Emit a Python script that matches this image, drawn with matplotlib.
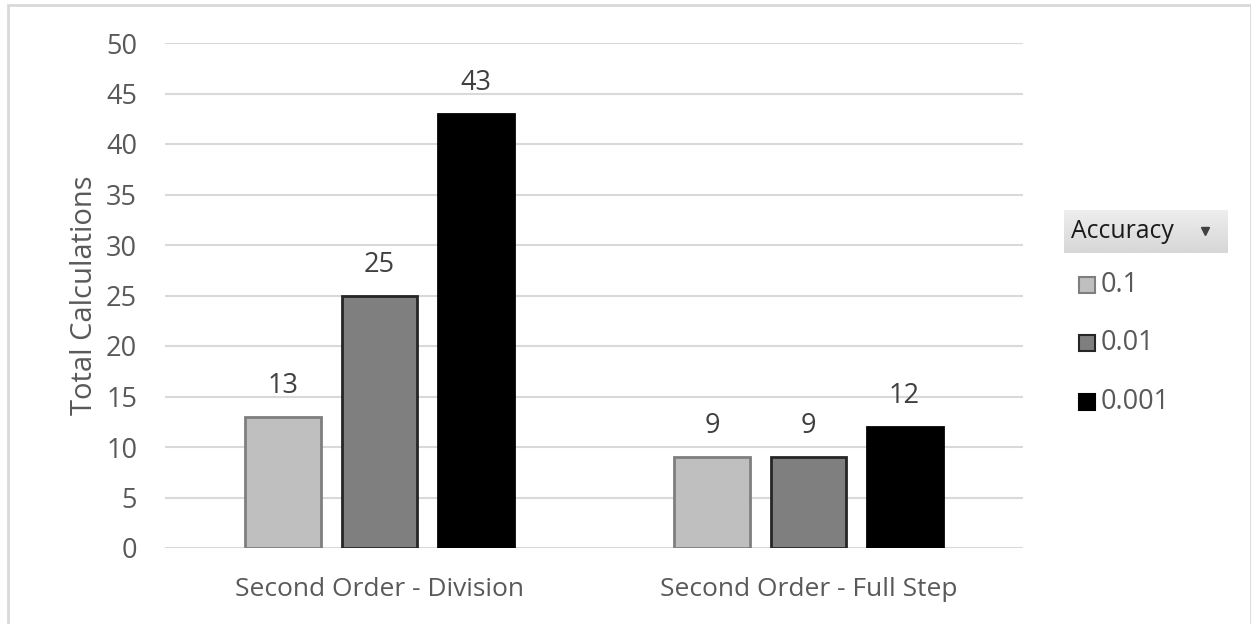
import numpy as np
import matplotlib.pyplot as plt
from matplotlib.patches import Rectangle
from matplotlib.lines import Line2D

# data
categories = ['Second Order - Division', 'Second Order - Full Step']
series_names = ['0.1', '0.01', '0.001']
values = {
    '0.1': [13, 9],
    '0.01': [25, 9],
    '0.001': [43, 12],
}
fills = {'0.1': '#BFBFBF', '0.01': '#7F7F7F', '0.001': '#000000'}
edges = {'0.1': '#7F7F7F', '0.01': '#262626', '0.001': '#000000'}
yticks = np.arange(0, 55, 5)

plt.rcParams['font.family'] = ['Open Sans', 'DejaVu Sans']
text_col = '#595959'

W, H = 1251, 624
fig = plt.figure(figsize=(W / 100, H / 100), dpi=100)
ax = fig.add_axes([165 / W, 1 - 548 / H, (1023 - 165) / W, (548 - 43) / H])

x = np.arange(len(categories))
step = 0.224
width = 0.177
for i, name in enumerate(series_names):
    pos = x + (i - 1) * step
    bars = ax.bar(pos, values[name], width, color=fills[name],
                  edgecolor=edges[name], linewidth=2, zorder=3)
    for b, v in zip(bars, values[name]):
        ax.annotate(str(v), (b.get_x() + b.get_width() / 2, v),
                    xytext=(0, 12), textcoords='offset points',
                    ha='center', va='bottom', fontsize=19.5, color='#404040')

ax.set_xlim(-0.5, 1.5)
ax.set_ylim(0, 50)
ax.set_yticks(yticks)
ax.set_xticks(x)
ax.set_xticklabels(categories)
ax.tick_params(axis='y', length=0, pad=20, labelsize=19.5, labelcolor=text_col)
ax.tick_params(axis='x', length=0, pad=21, labelsize=19, labelcolor=text_col)
ax.grid(axis='y', color='#D9D9D9', linewidth=1.5, zorder=0)
for s in ax.spines.values():
    s.set_visible(False)
ax.set_ylabel('Total Calculations', fontsize=21, color=text_col, labelpad=5)

# outer chart frame (top and left edges visible)
fig.add_artist(Rectangle((8 / W, -0.05), (W - 8) / W, 1.05 - 5 / H,
                         transform=fig.transFigure, fill=False,
                         edgecolor='#D9D9D9', linewidth=2))

# slicer-style legend: header with a soft vertical gradient
hax = fig.add_axes([1064 / W, 1 - 253 / H, (1228 - 1064) / W, 43 / H])
grad = np.linspace(0.93, 0.84, 50).reshape(-1, 1)
hax.imshow(grad, cmap='gray', vmin=0, vmax=1, aspect='auto',
           extent=[0, 1, 0, 1])
hax.set_axis_off()
fig.text(1071 / W, 1 - 232 / H, 'Accuracy', fontsize=17.8, color='#1A1A1A',
         ha='left', va='center')
fig.add_artist(Line2D([1205 / W], [1 - 231 / H], marker='v', markersize=6,
                      color='#404040', transform=fig.transFigure))
legend_y = [285, 343, 402]
for name, yy in zip(series_names, legend_y):
    fig.add_artist(Line2D([1087 / W], [1 - yy / H], marker='s', markersize=12,
                          markerfacecolor=fills[name],
                          markeredgecolor=edges[name], markeredgewidth=1.5,
                          transform=fig.transFigure))
    fig.text(1101 / W, 1 - yy / H, name, fontsize=19.5, color=text_col,
             ha='left', va='center')

fig.savefig('out.png', dpi=100, facecolor='white')
